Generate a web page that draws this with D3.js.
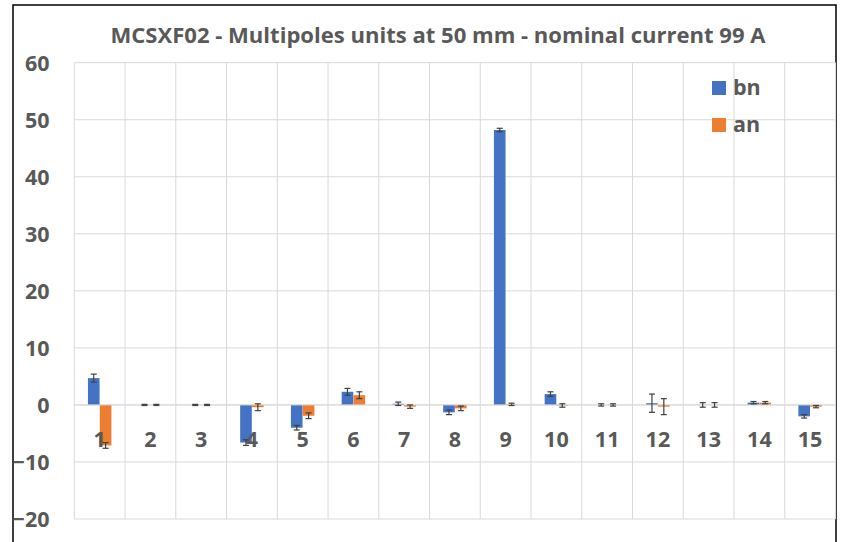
<!DOCTYPE html>
<html><head><meta charset="utf-8">
<script src="https://cdn.jsdelivr.net/npm/d3@7"></script>
<style>body{margin:0;background:#fff}svg{display:block}</style>
</head><body>
<svg id="c" width="849" height="542"></svg>
<script>
const categories = ["1","2","3","4","5","6","7","8","9","10","11","12","13","14","15"];
const bnValues = [4.7, 0.0, 0.0, -6.6, -4.0, 2.3, 0.2, -1.3, 48.2, 1.9, 0.0, 0.3, 0.0, 0.4, -2.0];
const bnErrors = [0.7, 0.1, 0.1, 0.5, 0.4, 0.6, 0.3, 0.4, 0.3, 0.4, 0.2, 1.6, 0.4, 0.2, 0.3];
const anValues = [-7.1, 0.0, 0.0, -0.4, -1.9, 1.7, -0.3, -0.6, 0.1, -0.1, 0.0, -0.3, 0.0, 0.4, -0.3];
const anErrors = [0.5, 0.1, 0.1, 0.6, 0.5, 0.6, 0.3, 0.4, 0.2, 0.3, 0.2, 1.4, 0.4, 0.2, 0.2];
const yTicks = [-20, -10, 0, 10, 20, 30, 40, 50, 60];
const seriesNames = ["bn", "an"];
const colors = ["#4472C4", "#ED7D31"];
const title = "MCSXF02 - Multipoles units at 50 mm - nominal current 99 A";

const svg = d3.select("#c");
const L = 74.3, R = 835.5, T = 62.7, B = 519;
const x = d3.scaleBand().domain(categories).range([L, R]).paddingInner(0).paddingOuter(0);
const y = d3.scaleLinear().domain([-20, 60]).range([B, T]);
const inner = d3.scaleBand().domain(seriesNames).range([0, x.bandwidth()]).paddingInner(0.02).paddingOuter(1.15);

// outer frame
svg.append("rect").attr("x", 13).attr("y", 5).attr("width", 823).attr("height", 560)
  .attr("fill", "none").attr("stroke", "#000").attr("stroke-width", 1.5);

// gridlines
const grid = svg.append("g");
grid.selectAll("line.h").data(yTicks).join("line")
  .attr("x1", L).attr("x2", R).attr("y1", d => y(d)).attr("y2", d => y(d))
  .attr("stroke", "#d9d9d9").attr("stroke-width", 1);
const vx = categories.map(c => x(c)).concat([R]);
grid.selectAll("line.v").data(vx).join("line")
  .attr("x1", d => d).attr("x2", d => d).attr("y1", T).attr("y2", B)
  .attr("stroke", "#d9d9d9").attr("stroke-width", 1);

// y axis labels
const yAxis = d3.axisLeft(y).tickValues(yTicks).tickSize(0).tickPadding(0);
const yg = svg.append("g").attr("transform", `translate(${49.5},0)`).call(yAxis);
yg.select(".domain").remove();
yg.selectAll("text").attr("font-family", "Open Sans").attr("font-weight", "bold")
  .attr("font-size", 21.5).attr("fill", "#595959").attr("dy", "0.36em");

// bars
const series = [
  {name: "bn", values: bnValues, errs: bnErrors, color: colors[0]},
  {name: "an", values: anValues, errs: anErrors, color: colors[1]}
];
series.forEach(s => {
  const g = svg.append("g");
  g.selectAll("rect").data(categories).join("rect")
    .attr("x", (c) => x(c) + inner(s.name))
    .attr("width", inner.bandwidth())
    .attr("y", (c, i) => y(Math.max(0, s.values[i])))
    .attr("height", (c, i) => Math.abs(y(s.values[i]) - y(0)))
    .attr("fill", s.color);
});

// zero line
svg.append("line").attr("x1", L).attr("x2", R).attr("y1", y(0)).attr("y2", y(0))
  .attr("stroke", "#d9d9d9").attr("stroke-width", 1);

// error bars
series.forEach(s => {
  const g = svg.append("g").attr("stroke", "#404040").attr("stroke-width", 1.2);
  categories.forEach((c, i) => {
    const cx = x(c) + inner(s.name) + inner.bandwidth() / 2;
    const y1 = y(s.values[i] + s.errs[i]), y2 = y(s.values[i] - s.errs[i]);
    g.append("line").attr("x1", cx).attr("x2", cx).attr("y1", y1).attr("y2", y2);
    g.append("line").attr("x1", cx - 3).attr("x2", cx + 3).attr("y1", y1).attr("y2", y1);
    g.append("line").attr("x1", cx - 3).attr("x2", cx + 3).attr("y1", y2).attr("y2", y2);
  });
});

// category labels
const xAxis = d3.axisBottom(x).tickSize(0).tickPadding(0);
const xg = svg.append("g").attr("transform", `translate(0,${447})`).call(xAxis);
xg.select(".domain").remove();
xg.selectAll("text").attr("font-family", "Open Sans").attr("font-weight", "bold")
  .attr("font-size", 21.5).attr("fill", "#595959").attr("dy", 0);

// title
svg.append("text").attr("x", 438).attr("y", 42.5).attr("text-anchor", "middle")
  .attr("font-family", "Open Sans").attr("font-weight", "bold").attr("font-size", 21.5)
  .attr("textLength", 655).attr("lengthAdjust", "spacingAndGlyphs")
  .attr("fill", "#595959").text(title);

// legend
const lg = svg.append("g");
series.forEach((s, i) => {
  const yy = 81 + i * 37;
  lg.append("rect").attr("x", 712).attr("y", yy).attr("width", 14).attr("height", 14).attr("fill", s.color);
  lg.append("text").attr("x", 733).attr("y", yy + 14).attr("font-family", "Open Sans")
    .attr("font-weight", "bold").attr("font-size", 21.5).attr("fill", "#595959").text(s.name);
});
</script>
</body></html>
